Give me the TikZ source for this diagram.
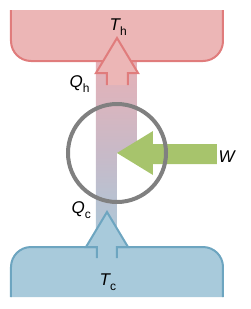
\documentclass[tikz,border=0pt]{standalone}
\usepackage{fontspec}
\setmainfont{Liberation Sans}
\definecolor{hotfill}{HTML}{ECB6B6}
\definecolor{colhot}{HTML}{E6B1B7}
\definecolor{hotline}{HTML}{E07C7C}
\definecolor{coldfill}{HTML}{A8CADB}
\definecolor{coldline}{HTML}{6DA5C0}
\definecolor{workfill}{HTML}{A7C46C}
\definecolor{colmid}{HTML}{C7BAC8}
\definecolor{ringgray}{HTML}{808080}
\newcommand\lbl[2]{{\fontsize{17}{17}\selectfont\itshape #1}\raisebox{-5.5pt}{\fontsize{12}{12}\selectfont #2}}
\tikzset{
  hotedge/.style={draw=hotline,line width=2pt,line join=miter},
  coldedge/.style={draw=coldline,line width=2pt,line join=miter},
  lab/.style={inner sep=0pt,anchor=base west}
}
\begin{document}
\begin{tikzpicture}[x=1pt,y=-1pt]
\useasboundingbox (0,0) rectangle (250,309);
% column
\shade[top color=colhot, bottom color=coldfill, middle color=colmid]
  (96,61) -- (137,61) -- (137,153) -- (117,153) -- (117,250) -- (96,250) -- cycle;
% hot reservoir
\fill[hotfill] (11,10) -- (11,41) arc[start angle=180,end angle=90,radius=20] -- (203,61)
  arc[start angle=90,end angle=0,radius=20] -- (223,10) -- cycle;
\draw[hotedge] (11,10) -- (11,41) arc[start angle=180,end angle=90,radius=20] -- (203,61)
  arc[start angle=90,end angle=0,radius=20] -- (223,10);
% hot arrow
\fill[hotfill] (107,85) -- (107,73) -- (96,73) -- (117,38) -- (138,73) -- (128,73) -- (128,85) -- cycle;
\draw[hotedge] (107,85) -- (107,73) -- (96,73) -- (117,38) -- (138,73) -- (128,73) -- (128,85);
% cold reservoir
\fill[coldfill] (11,297) -- (11,267) arc[start angle=180,end angle=270,radius=20] -- (203,247)
  arc[start angle=270,end angle=360,radius=20] -- (223,297) -- cycle;
\draw[coldedge] (11,297) -- (11,267) arc[start angle=180,end angle=270,radius=20] -- (203,247)
  arc[start angle=270,end angle=360,radius=20] -- (223,297);
% cold arrow
\fill[coldfill] (97,258) -- (97,247) -- (86,247) -- (107,212) -- (128,247) -- (117,247) -- (117,258) -- cycle;
\draw[coldedge] (97,258) -- (97,247) -- (86,247) -- (107,212) -- (128,247) -- (117,247) -- (117,258);
% work arrow
\fill[workfill] (117,153) -- (153,131) -- (153,144) -- (217,144) -- (217,164) -- (153,164) -- (153,175) -- cycle;
% engine ring
\draw[ringgray,line width=4pt] (117,153) circle[radius=49];
% labels
\node[lab] (Th) at (109.5,30) {\lbl{T}{h}};
\node[lab] (Qh) at (69.5,87) {\lbl{Q}{h}};
\node[lab] (Qc) at (71.5,213) {\lbl{Q}{c}};
\node[lab] (Tc) at (99.5,285) {\lbl{T}{c}};
\node[lab] (W) at (218.5,162) {{\fontsize{17}{17}\selectfont\itshape W}};
\end{tikzpicture}
\end{document}
